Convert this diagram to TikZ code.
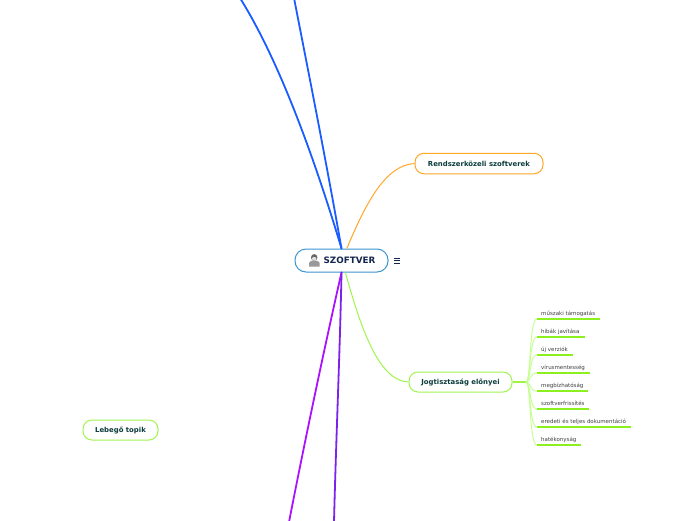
\documentclass[tikz,border=0pt]{standalone}
\usepackage{fontspec}
\setmainfont{DejaVu Sans}
\usetikzlibrary{calc}
\definecolor{ink}{HTML}{0B3B3B}
\definecolor{navy}{HTML}{14264F}
\definecolor{rootc}{HTML}{3C94D0}
\definecolor{orangec}{HTML}{FFA726}
\definecolor{greenc}{HTML}{A0F550}
\definecolor{limec}{HTML}{8CF020}
\definecolor{pale}{HTML}{C4FF90}
\definecolor{bluec}{HTML}{1A5CFF}
\definecolor{purp}{HTML}{AA11FF}
\definecolor{viol}{HTML}{7A22EE}
\tikzset{
  x=1pt,y=-1pt,
  topicbox/.style={draw,line width=1pt,fill=white,rounded corners=9pt,inner sep=0pt,font=\bfseries\fontsize{6.9}{8}\selectfont,text=ink},
  subtext/.style={inner sep=0pt,anchor=west,font=\fontsize{5.5}{6.5}\selectfont,text=black!75},
  under/.style={draw=limec,line width=1.05pt},
  branch/.style={draw=pale,line width=0.9pt},
  main/.style={line width=1.8pt,line cap=round}
}
\begin{document}
\begin{tikzpicture}
\useasboundingbox (0,0) rectangle (696,520);
\fill[white] (0,0) rectangle (696,520);

\node[topicbox,draw=rootc,rounded corners=11pt,minimum width=93pt,minimum height=23pt,font=\bfseries\fontsize{8.8}{10}\selectfont,text=navy] (root) at (341.5,260.5) {\hspace{16pt}SZOFTVER};
\node[topicbox,draw=orangec,minimum width=128pt,minimum height=20.5pt] (rk) at (479,163.5) {Rendszerközeli szoftverek};
\node[topicbox,draw=greenc,minimum width=103pt,minimum height=20pt] (jog) at (460.5,382) {Jogtisztaság előnyei};
\node[topicbox,draw=greenc,minimum width=75pt,minimum height=20pt] (leb) at (120.5,430) {Lebegő topik};

% free ends
\coordinate (b1) at (294,-2);
\coordinate (b2) at (240,-2);
\coordinate (p1) at (289,522);
\coordinate (p2) at (334,522);

\draw[main,bluec] (root.north) .. controls (325,155) and (308,70) .. (b1);
\draw[main,bluec] (root.north) .. controls (318,170) and (282,65) .. (b2);
\draw[main,purp] (root.south) .. controls (325,345) and (305,440) .. (p1);
\draw[main,viol] (root.south) .. controls (340,350) and (336,440) .. (p2);
\draw[orangec,line width=1pt] (root.66) .. controls (365,205) and (385,165) .. (rk.west);
\draw[greenc,line width=1pt] (root.-72) .. controls (360,325) and (378,381) .. (jog.west);

% hub
\coordinate (hub) at (526,382);
\draw[limec!70!pale,line width=1.1pt] (jog.east) -- (hub);

% subtopics
\foreach \n/\y/\u/\xe/\t in {
  s1/313.5/319/600/műszaki támogatás,
  s2/331.5/337/585/hibák javítása,
  s3/349.5/355/573/új verziók,
  s4/367.5/373/590/vírusmentesség,
  s5/385.5/391/588/megbízhatóság,
  s6/403.5/409/589/szoftverfrissítés,
  s7/421.5/427/631/eredeti és teljes dokumentáció,
  s8/439.5/445/581/hatékonyság}{
  \node[subtext] (\n) at (541,\y) {\t};
  \coordinate (\n a) at (537,\u);
  \coordinate (\n b) at (\xe,\u);
  \draw[under] (\n a) -- (\n b);
  \draw[branch] (hub) .. controls (531,382) and (529,\u) .. (\n a);
}

% icon
\begin{scope}
  \fill[black!40] (309,266.5) -- (309,263) .. controls (309,261) and (312,260.5) .. (314,260.5) .. controls (316,260.5) and (319.5,261) .. (319.5,263) -- (319.5,266.5) -- cycle;
  \fill[black!60] (314.2,257.5) ellipse (3.2 and 3.4);
  \fill[black!12] (314.2,258.8) ellipse (2.3 and 1.9);
\end{scope}

% menu mark
\draw[navy,line width=0.7pt] (394,258) -- (400,258) (394,260.5) -- (400,260.5) (394,263) -- (400,263);
\end{tikzpicture}
\end{document}
